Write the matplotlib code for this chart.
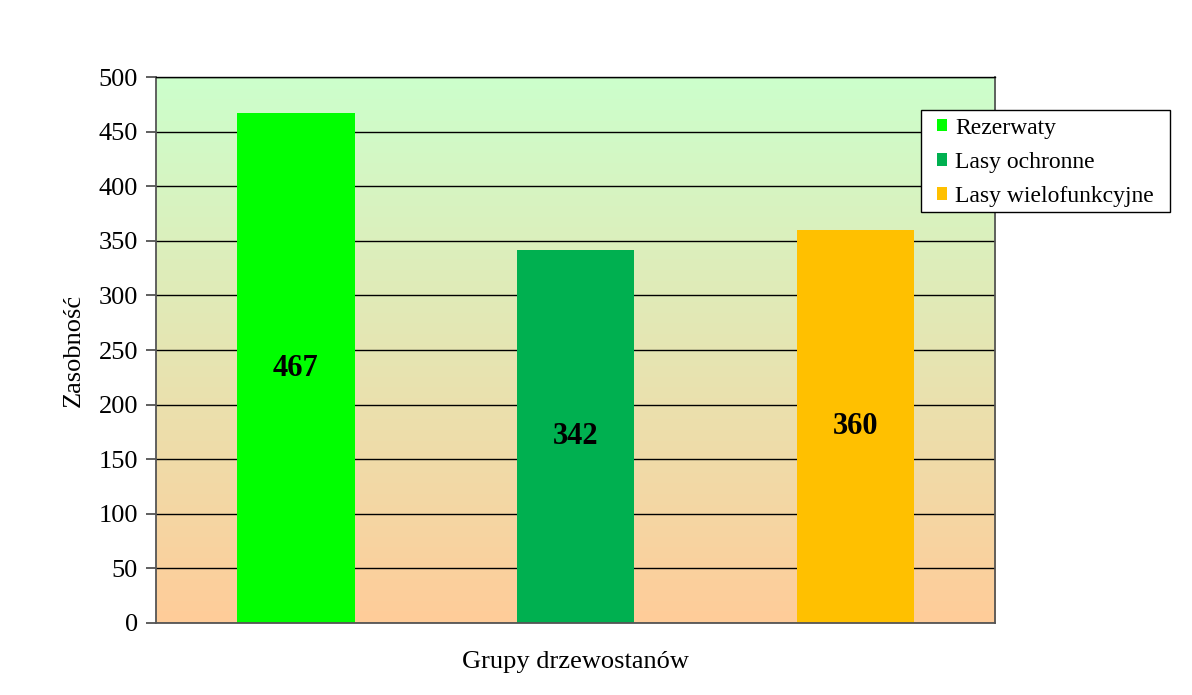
import numpy as np
import matplotlib
matplotlib.use("Agg")
from matplotlib import pyplot as plt
from matplotlib.colors import LinearSegmentedColormap
from matplotlib.patches import Rectangle

# Data
categories = ["Rezerwaty", "Lasy ochronne", "Lasy wielofunkcyjne"]
values = [467, 342, 360]
colors = ["#00FF00", "#00B050", "#FFC000"]
yticks = [0, 50, 100, 150, 200, 250, 300, 350, 400, 450, 500]

plt.rcParams['font.family'] = ['Liberation Serif', 'DejaVu Serif']

fig = plt.figure(figsize=(11.92, 6.95), dpi=100)
ax = fig.add_axes([0.1309, 0.1036, 0.7039, 0.7856])

# gradient background: light green top -> peach bottom
cmap = LinearSegmentedColormap.from_list("bg", ["#FFCC99", "#CCFFCC"])
grad = np.linspace(0, 1, 256).reshape(-1, 1)
ax.imshow(grad, aspect='auto', cmap=cmap, origin='lower',
          extent=[-0.5, 2.5, 0, 500], zorder=0)

ax.set_xlim(-0.5, 2.5)
ax.set_ylim(0, 500)
ax.set_yticks(yticks)
ax.yaxis.grid(True, color='black', linewidth=1.0, zorder=1)
ax.set_axisbelow(True)

x = np.arange(len(categories))
bars = ax.bar(x, values, width=0.42, color=colors, label=categories, zorder=2)

for xi, v in zip(x, values):
    ax.text(xi, v / 2, str(v), ha='center', va='center', fontsize=22,
            fontweight='bold', color='black', zorder=3)

ax.set_xticks([])
ax.tick_params(axis='y', labelsize=19, length=7, width=1.2, color='#444444', pad=6)
for s in ['left', 'right', 'bottom']:
    ax.spines[s].set_color('#555555')
    ax.spines[s].set_linewidth(1.3)
ax.spines['top'].set_color('black')
ax.spines['top'].set_linewidth(1.0)

ax.set_ylabel("Zasobność", fontsize=19, labelpad=10)
ax.set_xlabel("Grupy drzewostanów", fontsize=19, labelpad=20)

# legend box drawn separately so the inner padding can be wider than the row spacing
box = Rectangle((0.7727, 0.6950), 0.2089, 0.1468, transform=fig.transFigure,
                facecolor='white', edgecolor='black', linewidth=1.0,
                clip_on=False, zorder=5)
ax.add_artist(box)
leg = ax.legend(loc='upper left', bbox_to_anchor=(0.9213, 0.9396), fontsize=17,
                frameon=False, handlelength=0.45, handleheight=0.45,
                handletextpad=0.35, labelspacing=0.56, borderpad=0.32,
                borderaxespad=0)
leg.set_zorder(6)

fig.savefig("out.png", dpi=100, facecolor='white')
